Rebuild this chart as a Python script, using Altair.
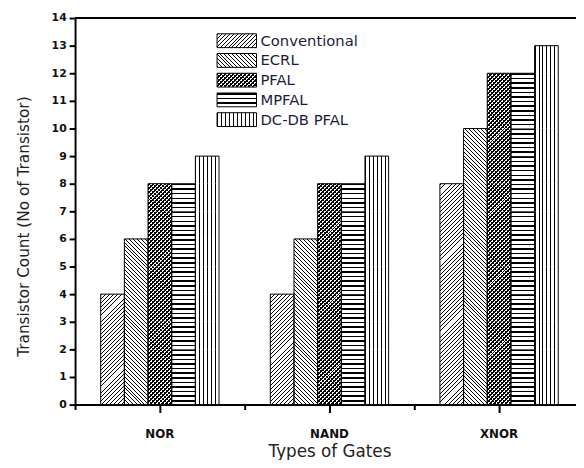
import altair as alt
import pandas as pd

# ---------------- data ----------------
gates = ["NOR", "NAND", "XNOR"]
series = ["Conventional", "ECRL", "PFAL", "MPFAL", "DC-DB PFAL"]
conventional = [4, 4, 8]
ecrl = [6, 6, 10]
pfal = [8, 8, 12]
mpfal = [8, 8, 12]
dcdb_pfal = [9, 9, 13]
y_ticks = list(range(0, 15))

values = {
    "Conventional": conventional,
    "ECRL": ecrl,
    "PFAL": pfal,
    "MPFAL": mpfal,
    "DC-DB PFAL": dcdb_pfal,
}
df = pd.DataFrame(
    [{"gate": g, "series": s, "count": values[s][i]}
     for i, g in enumerate(gates) for s in series]
)
leg_df = pd.DataFrame({"series": series})

# ---------------- geometry / style ----------------
W, H = 508, 392
Y_MAX = 14
STEP = 172.0
BAR_W = 24.0
GROUP_PAD = (STEP - BAR_W * len(series)) / 2
UNIT_H = H / Y_MAX
FONT = "DejaVu Sans"

LEG_RANGE = [13, 113]
LEG_PAD_INNER = 0.3
LEG_STEP = (LEG_RANGE[1] - LEG_RANGE[0]) / len(series)
LEG_H = LEG_STEP * (1 - LEG_PAD_INNER)
LEG_X0, LEG_X1 = 144, 184
CLEAR = "rgba(0,0,0,0)"


def stripe_stops(length, period, phase, thick, line, bg):
    stops = [{"offset": 0, "color": bg}]
    k = 0
    while k * period + phase < length:
        s = (k * period + phase) / length
        e = min((k * period + phase + thick) / length, 1.0)
        stops += [
            {"offset": s, "color": bg},
            {"offset": s, "color": line},
            {"offset": e, "color": line},
            {"offset": e, "color": bg},
        ]
        k += 1
    stops.append({"offset": 1, "color": bg})
    return stops


def hatch(kind, w, h, period, phase, thick):
    if kind == "h":
        g = {"x1": 0, "y1": 0, "x2": 0, "y2": 1}
        length = h
    elif kind == "v":
        g = {"x1": 0, "y1": 0, "x2": 1, "y2": 0}
        length = w
    else:
        k = (w + h) / (w * w + h * h)
        if kind == "/":
            g = {"x1": 0, "y1": 0, "x2": w * k, "y2": h * k}
        else:
            g = {"x1": 0, "y1": 1, "x2": w * k, "y2": 1 - h * k}
        length = w + h
    g["gradient"] = "linear"
    g["stops"] = stripe_stops(length, period, phase, thick, "black", CLEAR)
    return g


# (direction, period px, phase px, line thickness px)
PATTERNS = {
    "Conventional": [("/", 4.0, 0.5, 1.0)],
    "ECRL": [("\\", 4.0, 0.5, 1.0)],
    "PFAL": [("/", 4.0, 0.5, 2.0), ("\\", 4.0, 0.5, 1.0)],
    "MPFAL": [("h", UNIT_H / 6, 0.0, 1.6)],
    "DC-DB PFAL": [("v", BAR_W / 6, 0.0, 1.0)],
}

x_scale = alt.Scale(domain=gates, range=[0, STEP * len(gates)],
                    paddingInner=0, paddingOuter=0)
xo_scale = alt.Scale(domain=series, range=[GROUP_PAD, STEP - GROUP_PAD],
                     paddingInner=0, paddingOuter=0)
y_scale = alt.Scale(domain=[0, Y_MAX], nice=False)

x_enc = alt.X("gate:N", scale=x_scale, axis=None)
xo_enc = alt.XOffset("series:N", scale=xo_scale)

base = alt.Chart(df)
# each bar split into unit-high segments so the hatch tiles evenly
seg_base = base.transform_calculate(
    u="sequence(0, datum.count)"
).transform_flatten(["u"]).transform_calculate(u2="datum.u + 1")

layers = [
    base.mark_bar(fill="white", strokeWidth=0).encode(
        x=x_enc, xOffset=xo_enc,
        y=alt.Y("count:Q", scale=y_scale, axis=None))
]
for s in series:
    for kind, per, ph, th in PATTERNS[s]:
        layers.append(
            seg_base.transform_filter(alt.datum.series == s).mark_bar(
                fill=hatch(kind, BAR_W, UNIT_H, per, ph, th), strokeWidth=0,
            ).encode(
                x=x_enc, xOffset=xo_enc,
                y=alt.Y("u:Q", scale=y_scale, axis=None), y2="u2:Q",
            )
        )
layers.append(
    base.mark_bar(fillOpacity=0, stroke="black", strokeWidth=1).encode(
        x=x_enc, xOffset=xo_enc,
        y=alt.Y("count:Q", scale=y_scale, axis=None))
)

# axis carrier layers
axis_labels = base.mark_point(opacity=0).encode(
    x=alt.X("gate:N", scale=x_scale, axis=alt.Axis(
        orient="bottom", title="Types of Gates", tickSize=8, tickWidth=2,
        domainWidth=2, domainColor="black", tickColor="black",
        labelFont=FONT, labelFontWeight="bold", labelFontSize=12,
        labelColor="#111", labelPadding=16, labelAngle=0,
        titleFont=FONT, titleFontWeight="normal", titleFontSize=17,
        titleColor="#222", titleBaseline="middle", titleY=48)),
    y=alt.Y("count:Q", scale=y_scale, axis=alt.Axis(
        orient="left", values=y_ticks,
        title="Transistor Count (No of Transistor)",
        tickSize=6, tickWidth=2, domainWidth=2, domainColor="black",
        tickColor="black", grid=False,
        labelFont=FONT, labelFontWeight="bold", labelFontSize=11,
        labelColor="#111", labelPadding=3,
        titleFont=FONT, titleFontWeight="normal", titleFontSize=15.5,
        titleColor="#222", titlePadding=20, titleY=211)),
)
axis_bands = base.mark_point(opacity=0).encode(
    x=alt.X("gate:N", scale=x_scale, axis=alt.Axis(
        orient="bottom", title=None, labels=False, bandPosition=0,
        tickSize=5, tickWidth=2, domainWidth=2, domainColor="black",
        tickColor="black")),
)
top_line = base.mark_rule(color="black", strokeWidth=2).encode(
    y=alt.Y(datum=Y_MAX, scale=y_scale, axis=None)
)

# ---------------- legend ----------------
leg_y = alt.Y("series:N", axis=None,
              scale=alt.Scale(domain=series, range=LEG_RANGE,
                              paddingInner=LEG_PAD_INNER,
                              paddingOuter=LEG_PAD_INNER / 2))
leg_base = alt.Chart(leg_df)
leg_x = dict(x=alt.value(LEG_X0), x2=alt.value(LEG_X1))
leg_layers = [leg_base.mark_rect(fill="white").encode(y=leg_y, **leg_x)]
for s in series:
    for kind, per, ph, th in PATTERNS[s]:
        leg_layers.append(
            leg_base.transform_filter(alt.datum.series == s).mark_rect(
                fill=hatch(kind, LEG_X1 - LEG_X0, LEG_H, per, ph, th),
                strokeWidth=0,
            ).encode(y=leg_y, **leg_x)
        )
leg_layers.append(
    leg_base.mark_rect(fillOpacity=0, stroke="black", strokeWidth=1).encode(
        y=leg_y, **leg_x)
)
leg_text = leg_base.mark_text(
    align="left", baseline="middle", font=FONT, fontSize=15, color="#1c1c3a"
).encode(x=alt.value(LEG_X1 + 4), y=leg_y, text="series:N")

chart = alt.layer(
    *layers, axis_labels, axis_bands, top_line, *leg_layers, leg_text
).resolve_scale(y="independent").resolve_axis(
    x="independent", y="independent"
).properties(
    width=W, height=H,
    padding={"left": 68, "top": 7, "right": 0, "bottom": 53},
    autosize=alt.AutoSizeParams(type="none"),
).configure_view(stroke=None)

chart.save("out.html", embed_options={"renderer": "svg", "actions": False})
